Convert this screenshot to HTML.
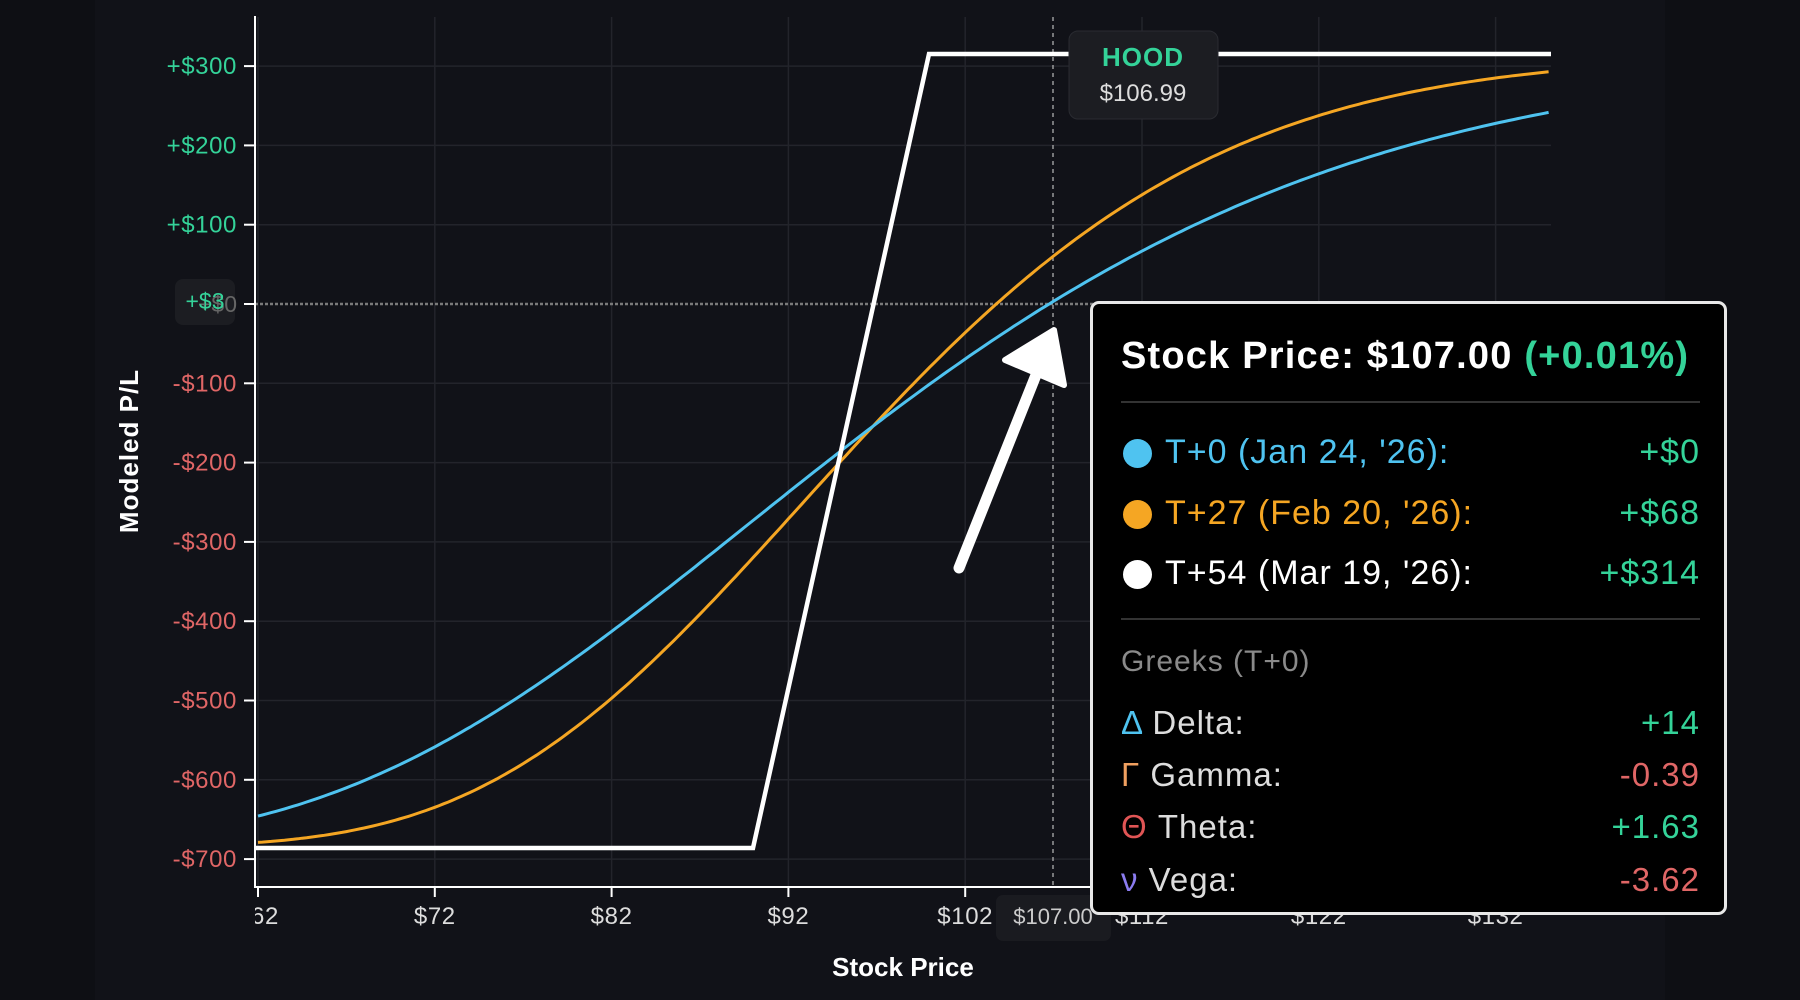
<!DOCTYPE html>
<html><head><meta charset="utf-8"><style>
html,body{margin:0;padding:0;background:#0e0f14;}
body{width:1800px;height:1000px;overflow:hidden;position:relative;font-family:"Liberation Sans",sans-serif;}
svg{position:absolute;left:0;top:0;}
.tip{position:absolute;left:1090px;top:301px;width:637px;height:614px;background:#000;border:3px solid #e8e8e8;border-radius:9px;box-sizing:border-box;}
.t{position:absolute;white-space:nowrap;letter-spacing:1px;}
</style></head><body>
<svg width="1800" height="1000" id="s">
<defs><clipPath id="cp"><rect x="255" y="0" width="1545" height="1000"/></clipPath></defs>
<rect x="0" y="0" width="1800" height="1000" fill="#0e0f14"/>
<rect x="95" y="0" width="1570" height="1000" fill="#111218"/>
<g id="grid" stroke="#23242b" stroke-width="1.5"></g>
<g id="ticks" style="letter-spacing:0.6px"></g>
<line x1="255" y1="304" x2="1551" y2="304" stroke="#7a7a7a" stroke-width="2.5" stroke-dasharray="3,2"/>
<line x1="1053" y1="17" x2="1053" y2="887" stroke="#bbb" stroke-width="1.2" stroke-dasharray="4,4"/>
<path id="orange" fill="none" stroke="#f5a623" stroke-width="3"/>
<path id="blue" fill="none" stroke="#4fc3f0" stroke-width="3"/>
<polyline points="255,848 753,848 929,54 1551,54" fill="none" stroke="#fff" stroke-width="4.5"/>
<line x1="255" y1="16" x2="255" y2="888" stroke="#fff" stroke-width="2"/>
<line x1="255" y1="887" x2="1551" y2="887" stroke="#fff" stroke-width="2"/>
<rect x="175" y="279" width="60" height="46" rx="8" fill="#1c1d22"/>
<text x="237" y="312" fill="#666" font-size="23" text-anchor="end">+$0</text>
<text x="205" y="309" fill="#34d399" font-size="23" text-anchor="middle">+$3</text>
<text transform="translate(138,451) rotate(-90)" fill="#fff" font-size="26" font-weight="bold" text-anchor="middle" letter-spacing="1">Modeled P/L</text>
<text x="903" y="976" fill="#fff" font-size="26" font-weight="bold" text-anchor="middle">Stock Price</text>
<rect x="996" y="895" width="115" height="46" rx="7" fill="#1a1b20"/>
<text x="1053" y="924" fill="#ccc" font-size="22" text-anchor="middle">$107.00</text>
<rect x="1069" y="31" width="149" height="88" rx="9" fill="#1c1d22" stroke="#2a2b31"/>
<text x="1143" y="66" fill="#34d399" font-size="26" font-weight="bold" text-anchor="middle" letter-spacing="1">HOOD</text>
<text x="1143" y="101" fill="#ddd" font-size="24" text-anchor="middle">$106.99</text>
<line x1="959" y1="568" x2="1040" y2="365" stroke="#fff" stroke-width="11" stroke-linecap="round"/>
<polygon points="1054,330 1064,385 1005,360" fill="#fff" stroke="#fff" stroke-width="6" stroke-linejoin="round"/>
</svg>
<div class="tip">
<div class="t" style="left:28px;top:31px;font-size:38px;font-weight:bold;color:#fff;letter-spacing:1.2px">Stock Price: $107.00 <span style="color:#34d399">(+0.01%)</span></div>
<div style="position:absolute;left:28px;right:24px;top:97px;height:2px;background:#333"></div>
<div style="position:absolute;left:30px;top:135px;width:29px;height:29px;border-radius:50%;background:#4fc3f0"></div>
<div class="t" style="left:72px;top:129px;font-size:34px;color:#4fc3f0">T+0 (Jan 24, '26):</div>
<div class="t" style="right:24px;top:129px;font-size:34px;color:#34d399">+$0</div>
<div style="position:absolute;left:30px;top:196px;width:29px;height:29px;border-radius:50%;background:#f5a623"></div>
<div class="t" style="left:72px;top:190px;font-size:34px;color:#f5a623">T+27 (Feb 20, '26):</div>
<div class="t" style="right:24px;top:190px;font-size:34px;color:#34d399">+$68</div>
<div style="position:absolute;left:30px;top:256px;width:29px;height:29px;border-radius:50%;background:#fff"></div>
<div class="t" style="left:72px;top:250px;font-size:34px;color:#fff">T+54 (Mar 19, '26):</div>
<div class="t" style="right:24px;top:250px;font-size:34px;color:#34d399">+$314</div>
<div style="position:absolute;left:28px;right:24px;top:314px;height:2px;background:#333"></div>
<div class="t" style="left:28px;top:341px;font-size:30px;color:#8a8a8a">Greeks (T+0)</div>
<div class="t" style="left:28px;top:400px;font-size:33px;color:#ddd"><span style="color:#4fc3f0">Δ</span> Delta:</div>
<div class="t" style="right:24px;top:400px;font-size:33px;color:#34d399">+14</div>
<div class="t" style="left:28px;top:452px;font-size:33px;color:#ddd"><span style="color:#f0a060">Γ</span> Gamma:</div>
<div class="t" style="right:24px;top:452px;font-size:33px;color:#e06666">-0.39</div>
<div class="t" style="left:28px;top:504px;font-size:33px;color:#ddd"><span style="color:#e05555">Θ</span> Theta:</div>
<div class="t" style="right:24px;top:504px;font-size:33px;color:#34d399">+1.63</div>
<div class="t" style="left:28px;top:557px;font-size:33px;color:#ddd"><span style="color:#8b7cf0">ν</span> Vega:</div>
<div class="t" style="right:24px;top:557px;font-size:33px;color:#e06666">-3.62</div>
</div>
<script>
var ns="http://www.w3.org/2000/svg";
function X(p){return 258+(p-62)*17.68;}
function Y(v){return 304-v*0.793;}
function el(t,a,par,txt){var e=document.createElementNS(ns,t);for(var k in a)e.setAttribute(k,a[k]);if(txt)e.textContent=txt;document.getElementById(par).appendChild(e);return e;}
for(var v=-700;v<=300;v+=100){var y=Y(v);
 if(v!=0)el('line',{x1:255,y1:y,x2:1551,y2:y},'grid');
 el('line',{x1:244,y1:y,x2:255,y2:y,stroke:'#fff','stroke-width':2},'ticks');
 if(v!=0)el('text',{x:237,y:y+8,'font-size':24,'text-anchor':'end',fill:v>0?'#34d399':'#e06666'},'ticks',(v>0?'+$':'-$')+Math.abs(v));}
for(var p=62;p<=132;p+=10){var x=X(p);
 el('line',{x1:x,y1:17,x2:x,y2:887},'grid');
 el('line',{x1:x,y1:887,x2:x,y2:897,stroke:'#fff','stroke-width':2},'ticks');
 el('text',{x:x,y:924,'font-size':24,'text-anchor':'middle',fill:'#ddd','clip-path':'url(#cp)'},'ticks','$'+p);}
function erf(x){var s=x<0?-1:1;x=Math.abs(x);var t=1/(1+0.3275911*x);var y=1-(((((1.061405429*t-1.453152027)*t)+1.421413741)*t-0.284496736)*t+0.254829592)*t*Math.exp(-x*x);return s*y;}
function Phi(z){return 0.5*(1+erf(z/Math.SQRT2));}
function path(z0,k){var d='';for(var p=62;p<=135.0001;p+=0.25){var v=-685+1000*Phi(z0+k*(Math.log(p)-Math.log(62)));d+=(d?'L':'M')+X(p).toFixed(1)+','+Y(v).toFixed(1);}return d;}
document.getElementById('blue').setAttribute('d',path(-1.76,4.126));
document.getElementById('orange').setAttribute('d',path(-2.51,5.81));
</script>
</body></html>
